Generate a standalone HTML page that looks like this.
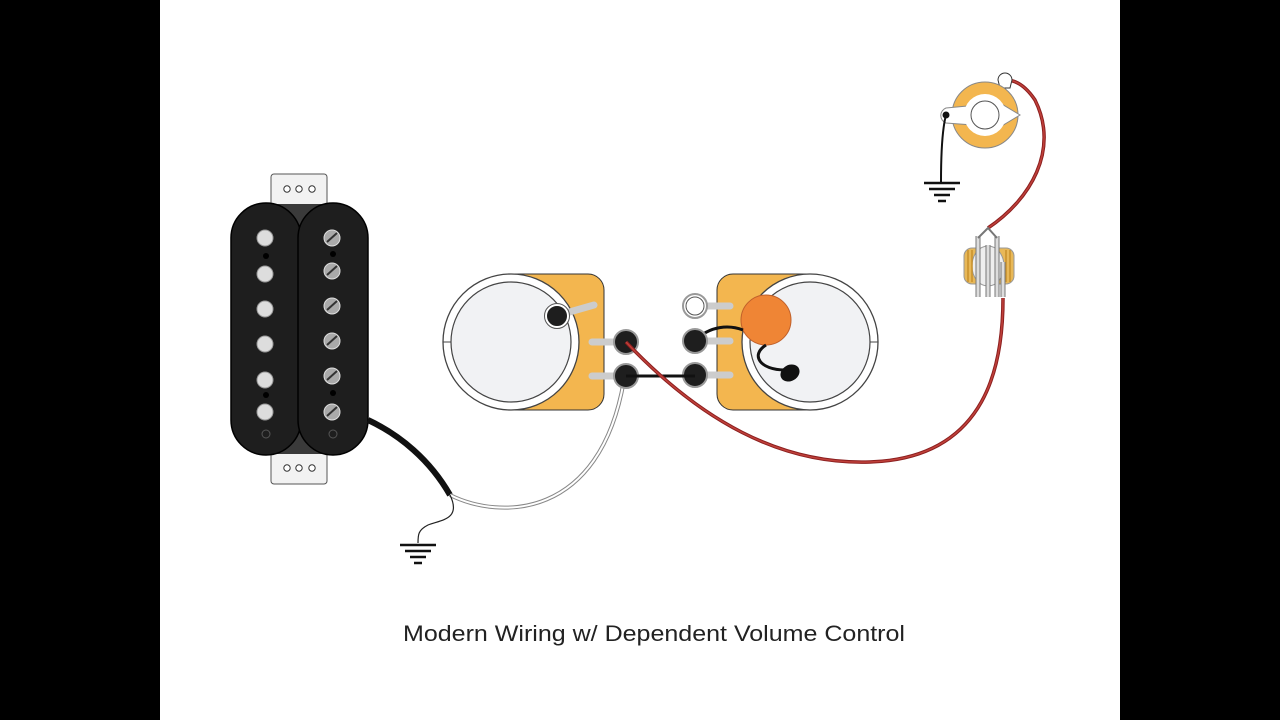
<!DOCTYPE html>
<html><head><meta charset="utf-8"><style>
html,body{margin:0;padding:0;background:#000;}
svg{display:block}
</style></head><body>
<svg width="1280" height="720" viewBox="0 0 1280 720" xmlns="http://www.w3.org/2000/svg">
<rect x="0" y="0" width="1280" height="720" fill="#000"/>
<rect x="160" y="0" width="960" height="720" fill="#fff"/>

<!-- pickup tabs -->
<rect x="271" y="174" width="56" height="34" rx="3" fill="#f2f2f2" stroke="#555" stroke-width="1"/>
<rect x="271" y="450" width="56" height="34" rx="3" fill="#f2f2f2" stroke="#555" stroke-width="1"/>
<g fill="#fff" stroke="#333" stroke-width="1">
<circle cx="287" cy="189" r="3.2"/><circle cx="299" cy="189" r="3.2"/><circle cx="312" cy="189" r="3.2"/>
<circle cx="287" cy="468" r="3.2"/><circle cx="299" cy="468" r="3.2"/><circle cx="312" cy="468" r="3.2"/>
</g>
<!-- pickup body -->
<rect x="262" y="204" width="74" height="250" fill="#3a3a3a"/>
<rect x="231" y="203" width="70" height="252" rx="35" fill="#1e1e1e" stroke="#000" stroke-width="1.5"/>
<rect x="298" y="203" width="70" height="252" rx="35" fill="#1e1e1e" stroke="#000" stroke-width="1.5"/>
<g fill="#ddd" stroke="#999" stroke-width="1">
<circle cx="265" cy="238" r="8"/><circle cx="265" cy="274" r="8"/><circle cx="265" cy="309" r="8"/>
<circle cx="265" cy="344" r="8"/><circle cx="265" cy="380" r="8"/><circle cx="265" cy="412" r="8"/>
</g>
<g fill="#aaa" stroke="#ddd" stroke-width="1">
<circle cx="332" cy="238" r="8"/><circle cx="332" cy="271" r="8"/><circle cx="332" cy="306" r="8"/>
<circle cx="332" cy="341" r="8"/><circle cx="332" cy="376" r="8"/><circle cx="332" cy="412" r="8"/>
</g>
<g stroke="#333" stroke-width="2">
<line x1="327" y1="242" x2="337" y2="233"/><line x1="327" y1="275" x2="337" y2="266"/><line x1="327" y1="310" x2="337" y2="301"/>
<line x1="327" y1="345" x2="337" y2="336"/><line x1="327" y1="380" x2="337" y2="371"/><line x1="327" y1="416" x2="337" y2="407"/>
</g>
<g fill="#000"><circle cx="266" cy="256" r="3"/><circle cx="333" cy="254" r="3"/><circle cx="266" cy="395" r="3"/><circle cx="333" cy="393" r="3"/></g>
<g fill="none" stroke="#555" stroke-width="1"><circle cx="266" cy="434" r="4"/><circle cx="333" cy="434" r="4"/></g>

<!-- pickup cable -->
<path d="M368,420 C400,435 430,460 450,495" stroke="#111" stroke-width="6" fill="none"/>
<path d="M450,495 C500,520 600,520 624,380" stroke="#888" stroke-width="4" fill="none"/>
<path d="M450,495 C500,520 600,520 624,380" stroke="#fff" stroke-width="2" fill="none"/>
<path d="M450,495 C462,520 440,520 428,525 C418,530 418,535 418,543" stroke="#222" stroke-width="1.2" fill="none"/>
<g stroke="#111" stroke-width="2.5"><line x1="400" y1="545" x2="436" y2="545"/><line x1="405" y1="551" x2="431" y2="551"/><line x1="410" y1="557" x2="426" y2="557"/><line x1="414" y1="563" x2="422" y2="563"/></g>

<!-- pot 1 -->
<rect x="500" y="274" width="104" height="136" rx="16" fill="#f3b64f" stroke="#333" stroke-width="1"/>
<circle cx="511" cy="342" r="68" fill="#fff" stroke="#444" stroke-width="1.3"/>
<circle cx="511" cy="342" r="60" fill="#f1f2f4" stroke="#444" stroke-width="1.2"/>
<line x1="443" y1="342" x2="451" y2="342" stroke="#444" stroke-width="1"/>
<path d="M566,313 L594,305" stroke="#ccc" stroke-width="7" stroke-linecap="round"/>
<circle cx="557" cy="316" r="11" fill="#1e1e1e" stroke="#fff" stroke-width="2"/>
<circle cx="557" cy="316" r="12.5" fill="none" stroke="#555" stroke-width="1"/>
<g stroke="#ccc" stroke-width="7" stroke-linecap="round"><line x1="592" y1="342" x2="618" y2="342"/><line x1="592" y1="376" x2="618" y2="376"/></g>

<!-- pot 2 -->
<rect x="717" y="274" width="104" height="136" rx="16" fill="#f3b64f" stroke="#333" stroke-width="1"/>
<circle cx="810" cy="342" r="68" fill="#fff" stroke="#444" stroke-width="1.3"/>
<circle cx="810" cy="342" r="60" fill="#f1f2f4" stroke="#444" stroke-width="1.2"/>
<line x1="870" y1="342" x2="878" y2="342" stroke="#444" stroke-width="1"/>
<g stroke="#ccc" stroke-width="7" stroke-linecap="round"><line x1="703" y1="306" x2="730" y2="306"/><line x1="703" y1="341" x2="730" y2="341"/><line x1="703" y1="375" x2="730" y2="375"/></g>
<circle cx="766" cy="320" r="25" fill="#ef8535" stroke="#c0602a" stroke-width="1"/>
<path d="M766,345 C750,355 760,370 785,370" stroke="#111" stroke-width="3" fill="none"/>
<ellipse cx="790" cy="373" rx="10" ry="8" transform="rotate(-30 790 373)" fill="#111"/>
<path d="M695,341 C710,325 730,325 743,330" stroke="#111" stroke-width="3" fill="none"/>

<!-- terminals -->
<g stroke="#999" stroke-width="2">
<circle cx="626" cy="342" r="12" fill="#1e1e1e"/><circle cx="626" cy="376" r="12" fill="#1e1e1e"/>
<circle cx="695" cy="306" r="12" fill="#fff"/><circle cx="695" cy="341" r="12" fill="#1e1e1e"/><circle cx="695" cy="375" r="12" fill="#1e1e1e"/>
</g>
<circle cx="695" cy="306" r="9" fill="none" stroke="#555" stroke-width="1"/>
<line x1="626" y1="376" x2="695" y2="376" stroke="#111" stroke-width="3"/>

<!-- red wires -->
<path d="M626,342 C700,420 780,465 870,462 C990,458 1003,360 1003,298" stroke="#8b1f1f" stroke-width="3.5" fill="none"/>
<path d="M626,342 C700,420 780,465 870,462 C990,458 1003,360 1003,298" stroke="#c0403a" stroke-width="1.5" fill="none"/>
<path d="M988,228 C1030,200 1060,150 1035,100 C1025,85 1015,80 1006,80" stroke="#8b1f1f" stroke-width="3.5" fill="none"/>
<path d="M988,228 C1030,200 1060,150 1035,100 C1025,85 1015,80 1006,80" stroke="#c0403a" stroke-width="1.5" fill="none"/>

<!-- output jack -->
<path d="M998,80 a7,7 0 1 1 14,0 l-2,8 h-10 z" fill="#fff" stroke="#333" stroke-width="1"/>
<circle cx="985" cy="115" r="33" fill="#f3b64f" stroke="#888" stroke-width="1"/>
<path d="M946,108 L1000,103 L1020,115 L1000,127 L946,123 a8,8 0 0 1 0,-15 z" fill="#fff" stroke="#888" stroke-width="1"/>
<circle cx="985" cy="115" r="21" fill="#fff"/>
<circle cx="985" cy="115" r="14" fill="#fff" stroke="#555" stroke-width="1"/>
<circle cx="946" cy="115" r="3.5" fill="#111"/>
<path d="M946,115 C942,130 941,160 941,182" stroke="#111" stroke-width="2" fill="none"/>
<g stroke="#111" stroke-width="2.5"><line x1="924" y1="183" x2="960" y2="183"/><line x1="929" y1="189" x2="955" y2="189"/><line x1="934" y1="195" x2="950" y2="195"/><line x1="938" y1="201" x2="946" y2="201"/></g>

<!-- jack barrel -->
<rect x="964" y="248" width="50" height="36" rx="8" fill="#e8b858" stroke="#999" stroke-width="1"/>
<ellipse cx="988" cy="266" rx="16" ry="20" fill="#eee" stroke="#999" stroke-width="1"/>
<g stroke="#c8902a" stroke-width="1.5"><line x1="968" y1="250" x2="968" y2="282"/><line x1="972" y1="250" x2="972" y2="282"/><line x1="1006" y1="250" x2="1006" y2="282"/><line x1="1010" y1="250" x2="1010" y2="282"/></g>
<g stroke="#777" stroke-width="5"><line x1="978" y1="236" x2="978" y2="297"/><line x1="997" y1="236" x2="997" y2="297"/><line x1="988" y1="245" x2="988" y2="297"/><line x1="1003" y1="262" x2="1003" y2="297"/></g>
<g stroke="#ddd" stroke-width="3"><line x1="978" y1="236" x2="978" y2="297"/><line x1="997" y1="236" x2="997" y2="297"/><line x1="988" y1="245" x2="988" y2="297"/><line x1="1003" y1="262" x2="1003" y2="297"/></g>
<path d="M978,238 L988,228 L997,238" stroke="#777" stroke-width="2" fill="none"/>

<text x="403" y="641" textLength="502" lengthAdjust="spacingAndGlyphs" font-family="Liberation Sans, sans-serif" font-size="22" fill="#222">Modern Wiring w/ Dependent Volume Control</text>
</svg>
</body></html>
